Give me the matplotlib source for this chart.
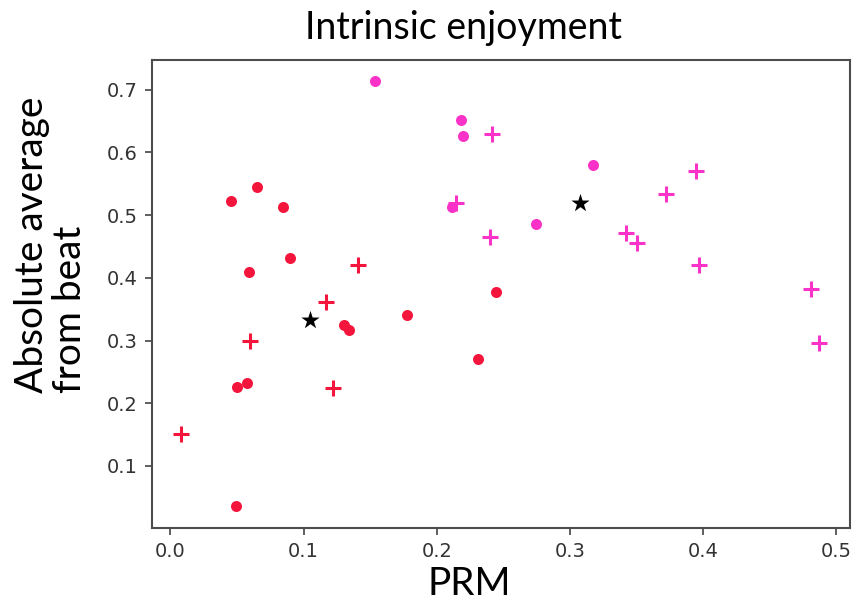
import numpy as np
import matplotlib
matplotlib.use('Agg')
import matplotlib.pyplot as plt

# PRM vs absolute average distance from beat
red_dot_x = [0.0455, 0.0648, 0.0848, 0.0898, 0.0592, 0.2443, 0.178, 0.1306, 0.1341, 0.2313, 0.0497, 0.0572, 0.0492]
red_dot_y = [0.523, 0.545, 0.5135, 0.431, 0.409, 0.378, 0.341, 0.325, 0.317, 0.270, 0.2255, 0.232, 0.036]

red_plus_x = [0.1411, 0.1166, 0.0597, 0.1219, 0.0077]
red_plus_y = [0.4206, 0.361, 0.300, 0.225, 0.1505]

pink_dot_x = [0.1536, 0.218, 0.220, 0.2113, 0.3172, 0.2746]
pink_dot_y = [0.7145, 0.652, 0.627, 0.5126, 0.580, 0.4855]

pink_plus_x = [0.2418, 0.2143, 0.240, 0.3948, 0.3723, 0.3422, 0.3503, 0.3973, 0.481, 0.4872]
pink_plus_y = [0.629, 0.520, 0.4647, 0.571, 0.534, 0.472, 0.455, 0.4206, 0.382, 0.2967]

star_x = [0.1048, 0.3077]
star_y = [0.333, 0.519]

xticks = [0.0, 0.1, 0.2, 0.3, 0.4, 0.5]
yticks = [0.1, 0.2, 0.3, 0.4, 0.5, 0.6, 0.7]

red = '#f3153c'
pink = '#fb32c8'

W, H = 856, 601
fig = plt.figure(figsize=(W/100, H/100), dpi=100)
ax = fig.add_axes([151.7/W, 1 - 528.3/H, (850 - 151.7)/W, (528.3 - 60)/H])

ax.scatter(red_dot_x, red_dot_y, s=63, color=red, marker='o', linewidths=0)
ax.scatter(red_plus_x, red_plus_y, s=120, color=red, marker='+', linewidths=2.2)
ax.scatter(pink_dot_x, pink_dot_y, s=63, color=pink, marker='o', linewidths=0)
ax.scatter(pink_plus_x, pink_plus_y, s=120, color=pink, marker='+', linewidths=2.2)
ax.scatter(star_x, star_y, s=190, color='black', marker='*', linewidths=0)

ax.set_xlim(-0.0141, 0.5105)
ax.set_ylim(0.0006, 0.7475)
ax.set_xticks(xticks)
ax.set_yticks(yticks)
ax.set_xticklabels(['%.1f' % t for t in xticks])
ax.set_yticklabels(['%.1f' % t for t in yticks])
ax.tick_params(labelsize=14, labelcolor='#333333', color='#444444', length=5, width=1.2, pad=5)
for sp in ax.spines.values():
    sp.set_color('#4d4d4d')
    sp.set_linewidth(1.5)

fig.text(463/W, 1 - 28/H, 'Intrinsic enjoyment', fontsize=27, family='Lato', ha='center', va='center')
fig.text(469/W, 1 - 595/H, 'PRM', fontsize=28, family='Lato', ha='center', va='baseline')
fig.text(51/W, 1 - 245/H, 'Absolute average\nfrom beat', fontsize=28, family='Lato',
         rotation=90, ha='center', va='center', multialignment='left', linespacing=1.05)

plt.savefig('out.png', dpi=100)
